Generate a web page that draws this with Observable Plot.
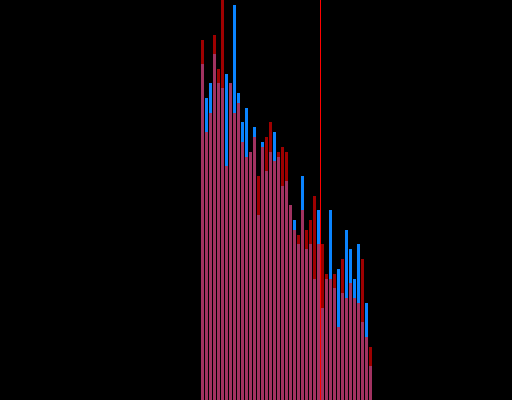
<!DOCTYPE html>
<html>
<head>
<meta charset="utf-8">
<script src="https://cdn.jsdelivr.net/npm/d3@7"></script>
<script src="https://cdn.jsdelivr.net/npm/@observablehq/plot@0.6"></script>
<style>
  html, body { margin: 0; padding: 0; background: #000; }
  #chart { width: 512px; height: 400px; overflow: hidden; }
</style>
</head>
<body>
<div id="chart"></div>
<script>
const bins = d3.range(50, 93);
const redSeries = [90, 67, 71.75, 91.25, 82.75, 100, 58.5, 79.25, 71.75, 74.25, 64.5, 60.75, 62, 65.75, 56, 63.25, 65.75, 69.5, 59.75, 62, 63.25, 62, 48.75, 42.5, 41.25, 47.5, 42.5, 45, 51, 39, 39, 31.5, 30.25, 31.5, 18.25, 35.25, 25.5, 29.25, 25.5, 24.25, 35.25, 15.75, 13.25];
const blueSeries = [84, 75.5, 79.25, 86.5, 79.25, 78, 81.5, 79.25, 98.75, 76.75, 69.5, 73, 62, 68.25, 46.25, 64.5, 57.25, 62, 67, 60.75, 53.5, 54.75, 48.75, 45, 39, 56, 37.75, 39, 30.25, 47.5, 23, 30.25, 47.5, 28, 32.75, 26.75, 42.5, 37.75, 30.25, 39, 19.5, 24.25, 8.5];
const markerValue = [80];

const blueData = bins.map((b, i) => ({x1: b, x2: b + 1, y: blueSeries[i]}));
const redData = bins.map((b, i) => ({x1: b, x2: b + 1, y: redSeries[i]}));

const chart = Plot.plot({
  width: 512,
  height: 400,
  margin: 0,
  style: {background: "#000"},
  x: {domain: [0, 128], axis: null},
  y: {domain: [0, 100], axis: null},
  marks: [
    Plot.rectY(blueData, {x1: "x1", x2: "x2", y: "y", fill: "#0a84ff", insetLeft: 1, shapeRendering: "crispEdges"}),
    Plot.rectY(redData, {x1: "x1", x2: "x2", y: "y", fill: "#ff0000", fillOpacity: 0.62, insetLeft: 1, shapeRendering: "crispEdges"}),
    Plot.ruleX(markerValue, {stroke: "#ff0000", strokeWidth: 1})
  ]
});
document.getElementById("chart").appendChild(chart);
</script>
</body>
</html>
